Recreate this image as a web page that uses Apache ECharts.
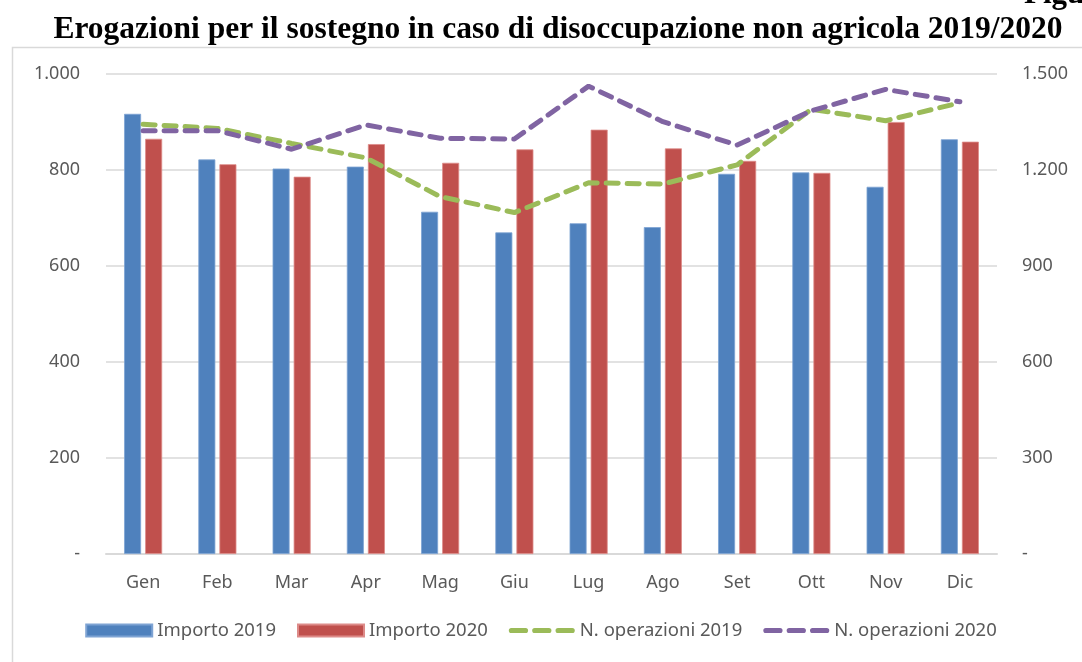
<!DOCTYPE html>
<html>
<head>
<meta charset="utf-8">
<script src="https://cdn.jsdelivr.net/npm/echarts@6/dist/echarts.min.js"></script>
<style>
  html, body { margin: 0; padding: 0; background: #fff; }
  #chart { width: 1082px; height: 662px; }
</style>
</head>
<body>
<div id="chart"></div>
<script>
// dati
const mesi = ["Gen", "Feb", "Mar", "Apr", "Mag", "Giu", "Lug", "Ago", "Set", "Ott", "Nov", "Dic"];
const importo2019 = [917, 822, 803, 807, 713, 670, 689, 681, 792, 795, 765, 864];
const importo2020 = [865, 812, 786, 854, 815, 843, 884, 845, 819, 794, 900, 859];
const operazioni2019 = [1343, 1330, 1283, 1238, 1117, 1067, 1160, 1156, 1216, 1390, 1354, 1410];
const operazioni2020 = [1323, 1323, 1265, 1341, 1299, 1297, 1462, 1351, 1278, 1385, 1452, 1413];

const fontTxt = "'Noto Sans', 'DejaVu Sans', sans-serif";
const grigio = "#595959";
// icona legenda: tre trattini
const iconaTratteggio = "path://M2,0h14a2,2 0 0 1 0,5h-14a2,2 0 0 1 0,-5z M25,0h14a2,2 0 0 1 0,5h-14a2,2 0 0 1 0,-5z M48,0h14a2,2 0 0 1 0,5h-14a2,2 0 0 1 0,-5z";

// separatore migliaia con il punto, zero come trattino
function fmt(v) {
  if (v === 0) return "-";
  return String(v).replace(/\B(?=(\d{3})+(?!\d))/g, ".");
}

const chart = echarts.init(document.getElementById("chart"));

const option = {
  backgroundColor: "#fff",
  animation: false,
  title: {
    text: "Erogazioni per il sostegno in caso di disoccupazione non agricola 2019/2020",
    left: 553,
    textAlign: "center",
    top: 9,
    textStyle: {
      fontFamily: "'Liberation Serif', 'DejaVu Serif', serif",
      fontWeight: "bold",
      fontSize: 31.5,
      color: "#000"
    }
  },
  graphic: [
    {
      type: "rect",
      left: 10,
      top: 45,
      shape: { width: 1100, height: 700 },
      style: { fill: "none", stroke: "#d9d9d9", lineWidth: 1.5 },
      silent: true
    },
    {
      type: "text",
      left: 1024,
      top: -21,
      style: {
        text: "Figura",
        font: "bold 31px 'Liberation Serif', serif",
        fill: "#000"
      }
    }
  ],
  grid: {
    left: 106,
    right: 85,
    top: 74,
    bottom: 108
  },
  legend: {
    bottom: 17,
    left: "center",
    itemWidth: 66,
    itemHeight: 12,
    itemGap: 21,
    textStyle: { fontFamily: fontTxt, fontSize: 18.5, color: grigio },
    data: [
      { name: "Importo 2019", icon: "rect" },
      { name: "Importo 2020", icon: "rect" },
      { name: "N. operazioni 2019", icon: iconaTratteggio },
      { name: "N. operazioni 2020", icon: iconaTratteggio }
    ]
  },
  xAxis: {
    type: "category",
    data: mesi,
    axisTick: { show: false },
    axisLine: { lineStyle: { color: "#d9d9d9", width: 2 } },
    axisLabel: { margin: 20, fontFamily: fontTxt, fontSize: 18, color: grigio }
  },
  yAxis: [
    {
      type: "value",
      min: 0,
      max: 1000,
      interval: 200,
      axisLine: { show: false },
      axisTick: { show: false },
      splitLine: { lineStyle: { color: "#d9d9d9", width: 1.5 } },
      axisLabel: { margin: 26, fontFamily: fontTxt, fontSize: 18, color: grigio, formatter: fmt }
    },
    {
      type: "value",
      min: 0,
      max: 1500,
      interval: 300,
      axisLine: { show: false },
      axisTick: { show: false },
      splitLine: { show: false },
      axisLabel: { margin: 25, fontFamily: fontTxt, fontSize: 18, color: grigio, formatter: fmt }
    }
  ],
  series: [
    {
      name: "Importo 2019",
      type: "bar",
      data: importo2019,
      barWidth: 17,
      barGap: "24%",
      itemStyle: { color: "#4f81bd", borderColor: "#7ea3d3", borderWidth: 0.8 }
    },
    {
      name: "Importo 2020",
      type: "bar",
      data: importo2020,
      barWidth: 17,
      itemStyle: { color: "#c0504d", borderColor: "#dd8b89", borderWidth: 0.8 }
    },
    {
      name: "N. operazioni 2019",
      type: "line",
      yAxisIndex: 1,
      data: operazioni2019,
      symbol: "none",
      itemStyle: { color: "#9bbb59" },
      lineStyle: { color: "#9bbb59", width: 5, type: [12, 9], cap: "round" },
      z: 3
    },
    {
      name: "N. operazioni 2020",
      type: "line",
      yAxisIndex: 1,
      data: operazioni2020,
      symbol: "none",
      itemStyle: { color: "#8064a2" },
      lineStyle: { color: "#8064a2", width: 5, type: [12, 9], cap: "round" },
      z: 4
    }
  ]
};

chart.setOption(option);
</script>
</body>
</html>
